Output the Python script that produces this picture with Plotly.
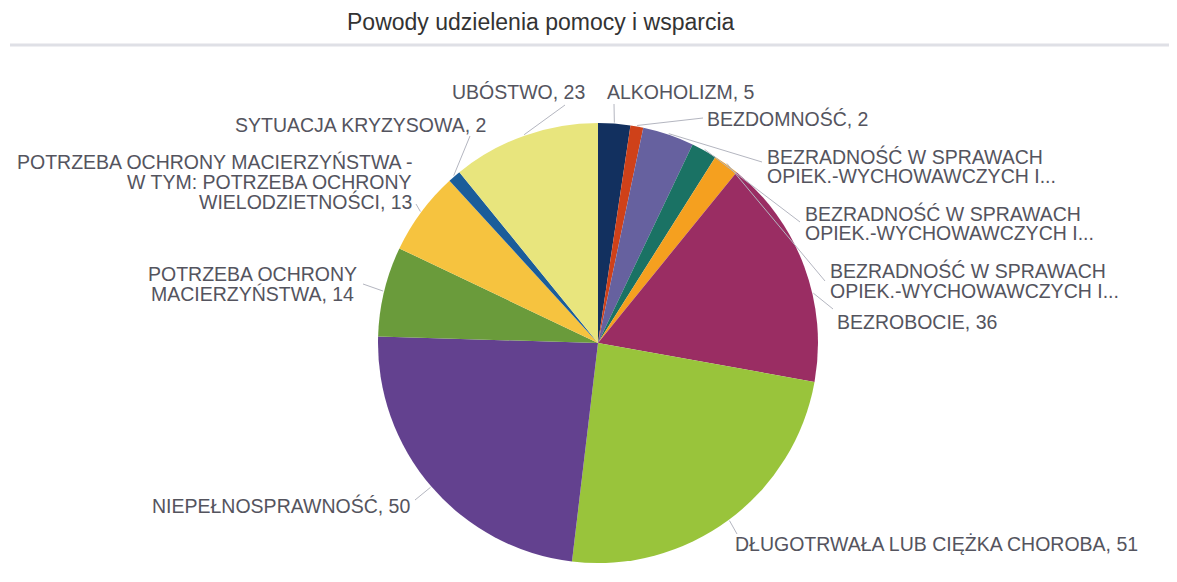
import math
import plotly.graph_objects as go

# ---------------- data ----------------
categories = [
    "ALKOHOLIZM",
    "BEZDOMNOŚĆ",
    "BEZRADNOŚĆ W SPRAWACH OPIEK.-WYCHOWAWCZYCH I... (1)",
    "BEZRADNOŚĆ W SPRAWACH OPIEK.-WYCHOWAWCZYCH I... (2)",
    "BEZRADNOŚĆ W SPRAWACH OPIEK.-WYCHOWAWCZYCH I... (3)",
    "BEZROBOCIE",
    "DŁUGOTRWAŁA LUB CIĘŻKA CHOROBA",
    "NIEPEŁNOSPRAWNOŚĆ",
    "POTRZEBA OCHRONY MACIERZYŃSTWA",
    "POTRZEBA OCHRONY MACIERZYŃSTWA - W TYM: POTRZEBA OCHRONY WIELODZIETNOŚCI",
    "SYTUACJA KRYZYSOWA",
    "UBÓSTWO",
]
values = [5, 2, 8, 4, 4, 36, 51, 50, 14, 13, 2, 23]

label_lines = [
    ["ALKOHOLIZM, 5"],
    ["BEZDOMNOŚĆ, 2"],
    ["BEZRADNOŚĆ W SPRAWACH", "OPIEK.-WYCHOWAWCZYCH I..."],
    ["BEZRADNOŚĆ W SPRAWACH", "OPIEK.-WYCHOWAWCZYCH I..."],
    ["BEZRADNOŚĆ W SPRAWACH", "OPIEK.-WYCHOWAWCZYCH I..."],
    ["BEZROBOCIE, 36"],
    ["DŁUGOTRWAŁA LUB CIĘŻKA CHOROBA, 51"],
    ["NIEPEŁNOSPRAWNOŚĆ, 50"],
    ["POTRZEBA OCHRONY", "MACIERZYŃSTWA, 14"],
    ["POTRZEBA OCHRONY MACIERZYŃSTWA -", "W TYM: POTRZEBA OCHRONY", "WIELODZIETNOŚCI, 13"],
    ["SYTUACJA KRYZYSOWA, 2"],
    ["UBÓSTWO, 23"],
]

title_text = "Powody udzielenia pomocy i wsparcia"

# ---------------- style / layout ----------------
colors = ["#12305f", "#cf4119", "#66619f", "#1a7264", "#f5a01f", "#9a2d63",
          "#99c43b", "#63418f", "#6a9b3b", "#f6c33f", "#1b5d9a", "#e8e57d"]

W, H = 1177, 582
OFF = 8  # page body margin
CX, CY, R = 598, 343, 220

# label placement (pixels): anchor x, first-line y, x-anchor, line end point, slice fraction for line start
label_pos = [
    (605, 92, "left", (614, 104), 0.5),
    (705, 118, "left", (703, 118), 0.5),
    (765, 156, "left", (762, 162), 0.5),
    (803, 213, "left", (800, 222), 0.5),
    (828, 271, "left", (825, 281), 0.5),
    (835, 322, "left", (833, 309), 0.62),
    (733, 544, "left", (737, 534), 0.5),
    (412, 505, "right", (415, 500), 0.5),
    (252, 274, "center", (363, 284), 0.5),
    (414, 162, "right", (416, 204), 0.5),
    (233, 125, "left", (470, 136), 0.5),
    (450, 92, "left", (565, 105), 0.5),
]
LINE_PITCH = 20
FONT = "Arial, Liberation Sans, sans-serif"
LABEL_SIZE = 19.5


def px(x):
    return (x - OFF) / W


def py(y):
    return 1 - (y - OFF) / H


fig = go.Figure(go.Pie(
    labels=categories,
    values=values,
    sort=False,
    direction="clockwise",
    rotation=0,
    marker=dict(colors=colors, line=dict(width=0)),
    textinfo="none",
    hoverinfo="label+value",
    showlegend=False,
    domain=dict(x=[px(CX - R), px(CX + R)], y=[py(CY + R), py(CY - R)]),
))

total = sum(values)
annotations = []
shapes = []
cum = 0.0
for v, lines, (ax, ay, anchor, (ex, ey), frac) in zip(values, label_lines, label_pos):
    a0 = cum / total * 360
    a1 = (cum + v) / total * 360
    cum += v
    ang = math.radians(a0 + (a1 - a0) * frac)
    sx = CX + (R + 1) * math.sin(ang)
    sy = CY - (R + 1) * math.cos(ang)
    shapes.append(dict(type="line", xref="paper", yref="paper",
                       x0=px(sx), y0=py(sy), x1=px(ex), y1=py(ey),
                       line=dict(color="#b4b6c0", width=1)))
    for i, t in enumerate(lines):
        annotations.append(dict(
            text=t, xref="paper", yref="paper",
            x=px(ax), y=py(ay + i * LINE_PITCH),
            xanchor=anchor, yanchor="middle", showarrow=False,
            font=dict(family=FONT, size=LABEL_SIZE, color="#54545e"),
        ))

annotations.append(dict(
    text=title_text, xref="paper", yref="paper",
    x=px(541), y=py(22), xanchor="center", yanchor="middle", showarrow=False,
    font=dict(family=FONT, size=23, color="#333333"),
))
shapes.append(dict(type="line", xref="paper", yref="paper",
                   x0=px(10), y0=py(45), x1=1, y1=py(45),
                   line=dict(color="#dfe0e6", width=3)))

fig.update_layout(
    width=W, height=H,
    margin=dict(l=0, r=0, t=0, b=0),
    paper_bgcolor="white",
    plot_bgcolor="white",
    annotations=annotations,
    shapes=shapes,
)

fig.write_html("out.html")
